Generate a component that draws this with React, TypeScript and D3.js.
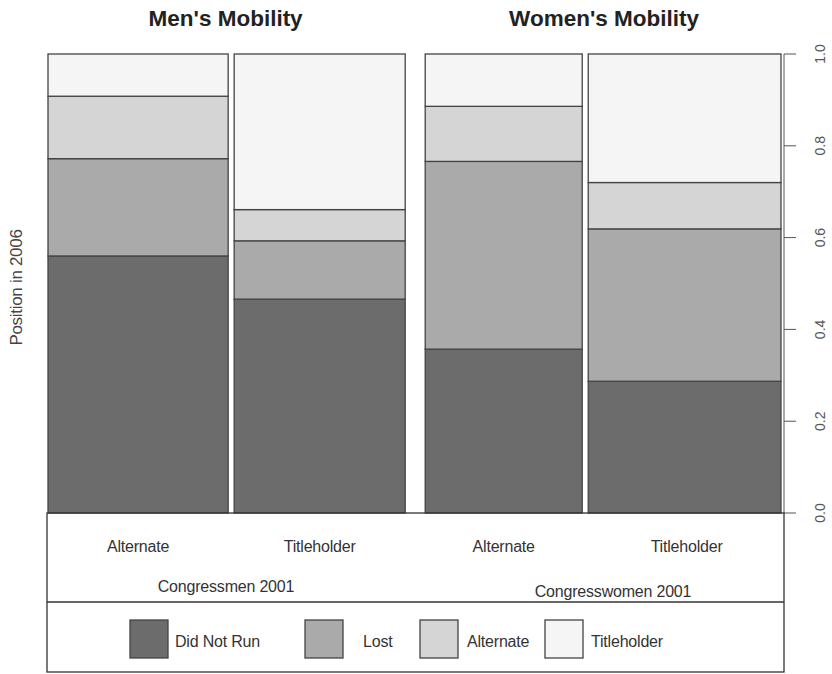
import React from "react";
import * as d3 from "d3";

// mosaic data
const columns = ["Alternate", "Titleholder", "Alternate", "Titleholder"];
const groups = ["Congressmen 2001", "Congresswomen 2001"];
const titles = ["Men's Mobility", "Women's Mobility"];
const colShares = [0.257, 0.244, 0.224, 0.275];
const categories = ["Did Not Run", "Lost", "Alternate", "Titleholder"];
const didNotRun = [0.56, 0.466, 0.357, 0.287];
const lost = [0.212, 0.127, 0.409, 0.332];
const alternate = [0.136, 0.068, 0.12, 0.101];
const titleholder = [0.092, 0.339, 0.114, 0.28];
const yTicks = [0, 0.2, 0.4, 0.6, 0.8, 1.0];

const colors = ["#6c6c6c", "#aaaaaa", "#d5d5d5", "#f5f5f5"];
const font = "Liberation Sans, Arial, sans-serif";

const W = 832;
const H = 674;
const left = 48;
const right = 784;
const top = 54;
const bottom = 513;
const innerGap = 6;
const groupGap = 20;

export default function App() {
  const series = [didNotRun, lost, alternate, titleholder];
  const gaps = [0, innerGap, groupGap, innerGap];
  const totalGap = d3.sum(gaps) + 1;
  const x = d3
    .scaleLinear()
    .domain([0, d3.sum(colShares)])
    .range([0, right - left - 2 - totalGap]);
  const y = d3.scaleLinear().domain([0, 1]).range([bottom, top]);

  let cursor = left;
  const cols = colShares.map((s, i) => {
    cursor += gaps[i];
    const x0 = cursor;
    const w = x(s);
    cursor += w;
    return { x0, w };
  });

  const cells: { x: number; y0: number; y1: number; w: number; c: number }[] = [];
  cols.forEach((col, i) => {
    let acc = 0;
    series.forEach((vals, k) => {
      cells.push({ x: col.x0, w: col.w, y0: acc, y1: acc + vals[i], c: k });
      acc += vals[i];
    });
  });

  const groupCenter = (g: number) =>
    (cols[g * 2].x0 + cols[g * 2 + 1].x0 + cols[g * 2 + 1].w) / 2;

  const legendX = [130, 305, 420, 545];
  const legendTextX = [175, 363, 467, 591];
  const labelStyle = { fontFamily: font, fontSize: 16, fill: "#333", letterSpacing: -0.2 };

  return (
    <div style={{ position: "absolute", left: 0, top: 0 }}>
      <svg width={W} height={H} style={{ display: "block", background: "#fff" }}>
        {titles.map((t, g) => (
          <text
            key={t}
            x={groupCenter(g) + (g === 0 ? -1 : 1)}
            y={26}
            textAnchor="middle"
            fontFamily={font}
            fontWeight="bold"
            fontSize={22.5}
            fill="#222"
          >
            {t}
          </text>
        ))}

        {cells.map((d, i) => (
          <rect
            key={i}
            x={d.x}
            y={y(d.y1)}
            width={d.w}
            height={y(d.y0) - y(d.y1)}
            fill={colors[d.c]}
            stroke="#444"
            strokeWidth={1.3}
          />
        ))}

        {/* right axis */}
        <line x1={right} x2={right} y1={y(1)} y2={y(0)} stroke="#555" />
        {yTicks.map((t) => (
          <g key={t}>
            <line x1={right} x2={right + 12} y1={y(t)} y2={y(t)} stroke="#555" />
            <text
              transform={`translate(${right + 41},${y(t)}) rotate(-90)`}
              textAnchor="middle"
              fontFamily={font}
              fontSize={14}
              fill="#555"
            >
              {d3.format(".1f")(t)}
            </text>
          </g>
        ))}

        <text
          transform={`translate(22,${(top + bottom) / 2 + 4}) rotate(-90)`}
          textAnchor="middle"
          fontFamily={font}
          fontSize={17}
          fill="#444"
          letterSpacing={-0.3}
        >
          Position in 2006
        </text>

        {/* label box + legend box */}
        <rect x={left - 1} y={bottom} width={right - left + 1} height={672 - bottom} fill="none" stroke="#333" strokeWidth={1.3} />
        <line x1={left - 1} x2={right} y1={602} y2={602} stroke="#333" strokeWidth={1.6} />

        {columns.map((c, i) => (
          <text key={i} x={cols[i].x0 + cols[i].w / 2 + (i === 3 ? 2 : 0)} y={552} textAnchor="middle" {...labelStyle}>
            {c}
          </text>
        ))}
        {groups.map((g, i) => (
          <text key={g} x={i === 0 ? 226 : 613} y={i === 0 ? 592 : 597} textAnchor="middle" {...labelStyle}>
            {g}
          </text>
        ))}

        {categories.map((c, i) => (
          <g key={c}>
            <rect x={legendX[i]} y={620} width={38} height={38} fill={colors[i]} stroke="#444" strokeWidth={1.3} />
            <text x={legendTextX[i]} y={647} {...labelStyle}>
              {c}
            </text>
          </g>
        ))}
      </svg>
    </div>
  );
}
